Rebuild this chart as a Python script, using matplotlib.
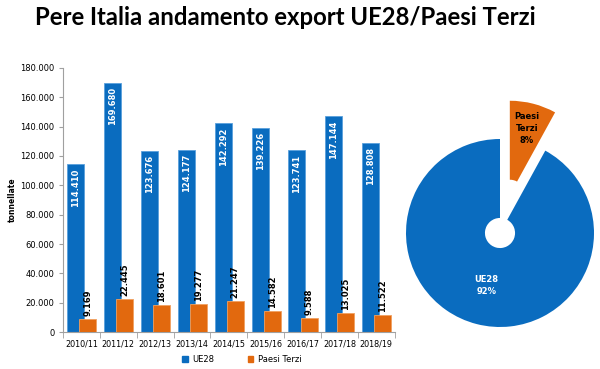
import numpy as np
import matplotlib.pyplot as plt
from matplotlib.ticker import FuncFormatter, FixedLocator
from matplotlib.patches import Patch

# data
seasons = ["2010/11", "2011/12", "2012/13", "2013/14", "2014/15",
           "2015/16", "2016/17", "2017/18", "2018/19"]
ue28 = [114410, 169680, 123676, 124177, 142292, 139226, 123741, 147144, 128808]
paesi_terzi = [9169, 22445, 18601, 19277, 21247, 14582, 9588, 13025, 11522]

pie_labels = ["Paesi Terzi", "UE28"]
pie_shares = [8, 92]

blue = "#0A6CBF"
orange = "#E2690E"

def thousands(v, pos=None):
    return f"{int(v):,}".replace(",", ".")

fig = plt.figure(figsize=(6, 3.69), dpi=100)
fig.text(0.058, 0.952, "Pere Italia andamento export UE28/Paesi Terzi",
         fontsize=17.2, fontweight="bold", family="Lato", va="center")

# bar chart
ax = fig.add_axes([0.105, 0.10, 0.553, 0.716])
x = np.arange(len(seasons))
w = 0.46
b1 = ax.bar(x - 0.155, ue28, w, color=blue, edgecolor="#5aa0dc", linewidth=0.6, zorder=2)
b2 = ax.bar(x + 0.175, paesi_terzi, w, color=orange, edgecolor="#f0a060", linewidth=0.6, zorder=3)

for r, v in zip(b1, ue28):
    ax.annotate(thousands(v), (r.get_x() + r.get_width() / 2, v), xytext=(0, -3),
                textcoords="offset points", ha="center", va="top", rotation=90,
                color="white", fontsize=6, fontweight="bold")
for r, v in zip(b2, paesi_terzi):
    ax.annotate(thousands(v), (r.get_x() + r.get_width() / 2, v), xytext=(0, 2),
                textcoords="offset points", ha="center", va="bottom", rotation=90,
                color="black", fontsize=6, fontweight="bold", zorder=4)

ax.set_xlim(-0.5, len(seasons) - 0.5)
ax.set_ylim(0, 180000)
ax.set_yticks(np.arange(0, 180001, 20000))
ax.yaxis.set_major_formatter(FuncFormatter(thousands))
ax.set_xticks(x)
ax.set_xticklabels(seasons)
ax.xaxis.set_minor_locator(FixedLocator(np.arange(-0.5, len(seasons), 1)))
ax.tick_params(axis="x", which="major", length=0, labelsize=5.8, pad=5)
ax.tick_params(axis="x", which="minor", length=4, color="#a0a0a0")
ax.tick_params(axis="y", length=3, color="#a0a0a0", labelsize=6, pad=3)
for s in ["top", "right"]:
    ax.spines[s].set_visible(False)
for s in ["left", "bottom"]:
    ax.spines[s].set_color("#a0a0a0")
ax.set_ylabel("tonnellate", fontsize=5.5, fontweight="bold")
ax.yaxis.set_label_coords(-0.14, 0.5)

handles = [Patch(color=blue), Patch(color=orange)]
fig.legend(handles, ["UE28", "Paesi Terzi"], loc="center", bbox_to_anchor=(0.403, 0.025),
           ncol=2, frameon=False, fontsize=6, handlelength=0.7, handleheight=0.7,
           columnspacing=4, handletextpad=0.5)

# pie chart
pax = fig.add_axes([400 / 600, 1 - 340 / 369, 200 / 600, 250 / 369])
wedges, _ = pax.pie(pie_shares, colors=[orange, blue], startangle=90, counterclock=False,
                    explode=[0.42, 0], radius=1, wedgeprops=dict(width=0.84))
dist = [0.73, 0.58]
for wd, lab, sh, d in zip(wedges, pie_labels, pie_shares, dist):
    th = np.deg2rad((wd.theta1 + wd.theta2) / 2)
    cx, cy = wd.center
    txt = lab.replace(" ", "\n") + f"\n{sh}%"
    pax.text(cx + d * np.cos(th), cy + d * np.sin(th), txt, ha="center", va="center",
             fontsize=6, fontweight="bold", linespacing=1.4,
             color="black" if lab == "Paesi Terzi" else "white")
pax.set_xlim(-100 / 94, 100 / 94)
pax.set_ylim(-107 / 94, 143 / 94)

fig.savefig("out.png", dpi=100)
